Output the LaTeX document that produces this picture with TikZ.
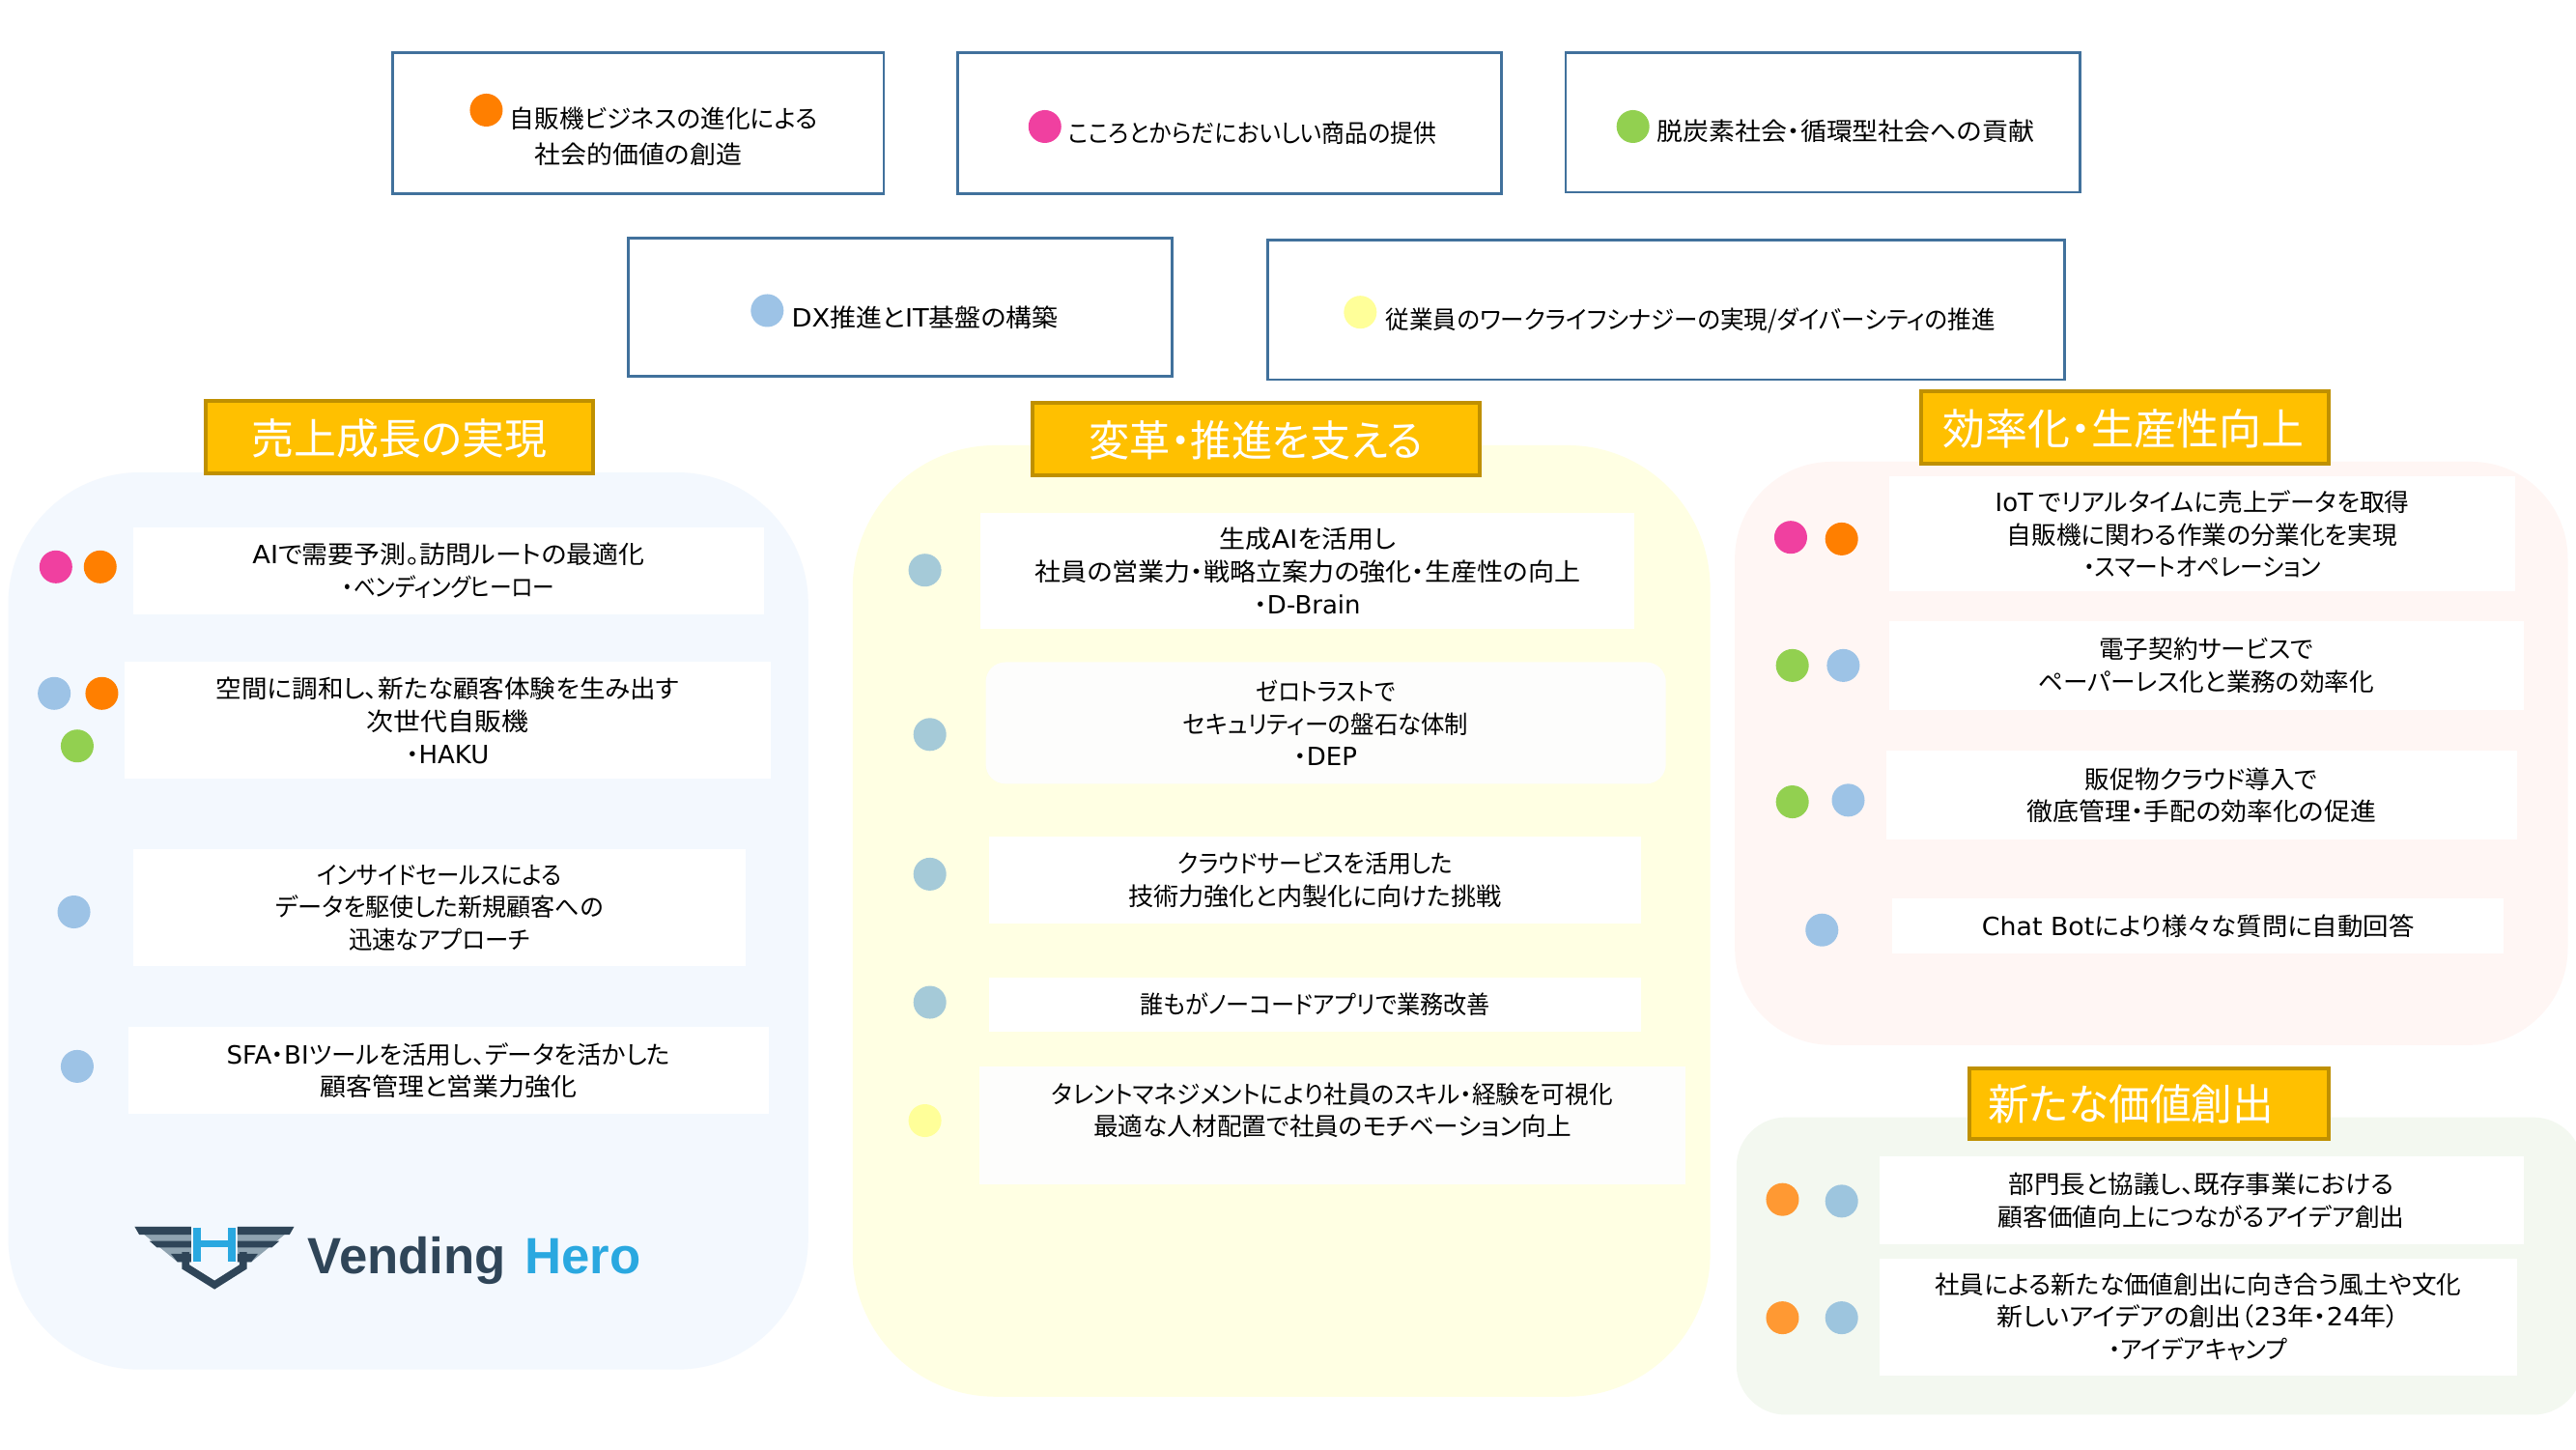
\documentclass[tikz,border=0pt]{standalone}
\usepackage{fontspec}
\setmainfont[RawFeature={+palt}]{Noto Sans CJK JP}
\newfontfamily\latfont{DejaVu Sans}
\newfontfamily\logofont{Liberation Sans}
\newcommand{\lat}[1]{{\latfont\fontsize{7.4pt}{9.6pt}\selectfont #1}}
\newcommand{\squeeze}[2]{\scalebox{#1}[1]{#2}}
\newcommand{\px}{0.17009mm}
\definecolor{frameblue}{HTML}{41719C}
\definecolor{headfill}{HTML}{FFC000}
\definecolor{headline}{HTML}{BF9000}
\definecolor{dotorange}{HTML}{FF7F00}
\definecolor{dotlight}{HTML}{FF9933}
\definecolor{dotpink}{HTML}{F040A0}
\definecolor{dotgreen}{HTML}{92D050}
\definecolor{dotblue}{HTML}{9DC3E6}
\definecolor{dotteal}{HTML}{A5CAD8}
\definecolor{dotsky}{HTML}{9DC5DE}
\definecolor{dotyellow}{HTML}{FFFF99}
\definecolor{softwhite}{HTML}{FDFDFC}
\definecolor{logodark}{HTML}{2F4558}
\definecolor{logolight}{HTML}{8FA3B0}
\definecolor{logoblue}{HTML}{2AA8E0}
\tikzset{
  panel/.style={inner sep=0pt,draw=none},
  goalbox/.style={draw=frameblue,line width=0.28mm,fill=white,inner sep=0pt},
  goaltext/.style={inner sep=0pt,font=\fontsize{7.3pt}{9.6pt}\selectfont,align=center},
  headbox/.style={draw=headline,line width=0.4mm,fill=headfill,inner sep=0pt},
  headtext/.style={inner sep=0pt,text=white,font=\fontsize{12.5pt}{15pt}\selectfont},
  itembox/.style={fill=white,inner sep=0pt,align=center,font=\fontsize{7.3pt}{9.6pt}\selectfont},
  softbox/.style={itembox,fill=softwhite},
  dot/.style={circle,inner sep=0pt,minimum size=20*\px}
}
\begin{document}
\begin{tikzpicture}[x=\px,y=\px]
\useasboundingbox (0,0) rectangle (1568,-882);
\fill[white] (0,0) rectangle (1568,-882);
% Panels
\node[panel,fill={rgb,255:red,243;green,248;blue,254},rounded corners=80*\px,minimum width=487*\px,minimum height=546*\px] (panelsales) at (248.5,-560.5) {};
\node[panel,fill={rgb,255:red,255;green,255;blue,227},rounded corners=87*\px,minimum width=522*\px,minimum height=579*\px] (panelchange) at (780,-560.5) {};
\node[panel,fill={rgb,255:red,255;green,246;blue,244},rounded corners=59*\px,minimum width=507*\px,minimum height=355*\px] (panelwork) at (1309.5,-458.5) {};
\node[panel,fill={rgb,255:red,243;green,248;blue,240},rounded corners=30*\px,minimum width=515*\px,minimum height=181*\px] (panelnew) at (1314.5,-770.5) {};
% Goals
\node[goalbox,minimum width=299*\px,minimum height=86*\px] (goalone) at (388.5,-75) {};
\node[goalbox,minimum width=331*\px,minimum height=86*\px] (goaltwo) at (748.5,-75) {};
\node[goalbox,minimum width=313*\px,minimum height=85*\px] (goalthree) at (1109.5,-74.5) {};
\node[goalbox,minimum width=331*\px,minimum height=84*\px] (goalfour) at (548,-187) {};
\node[goalbox,minimum width=485*\px,minimum height=85*\px] (goalfive) at (1014,-188.5) {};
\node[goaltext] (goalonea) at (404,-72) {自販機ビジネスの進化による};
\node[goaltext] (goaloneb) at (388.5,-94) {\squeeze{1.05}{社会的価値の創造}};
\node[goaltext] (goaltwoa) at (762.5,-81) {\squeeze{0.93}{こころとからだにおいしい商品の提供}};
\node[goaltext] (goalthreea) at (1123.5,-80) {\squeeze{1.05}{脱炭素社会・循環型社会への貢献}};
\node[goaltext] (goalfoura) at (563,-193) {\squeeze{1.05}{\lat{DX}推進と\lat{IT}基盤の構築}};
\node[goaltext] (goalfivea) at (1029,-195) {\squeeze{0.956}{従業員のワークライフシナジーの実現/ダイバーシティの推進}};
% Headings
\node[headbox,minimum width=236*\px,minimum height=44*\px] (headsales) at (243,-266) {};
\node[headbox,minimum width=272*\px,minimum height=44*\px] (headchange) at (764.5,-267) {};
\node[headbox,minimum width=248*\px,minimum height=44*\px] (headwork) at (1293.5,-260) {};
\node[headbox,minimum width=219*\px,minimum height=43*\px] (headnew) at (1308,-671.5) {};
\node[headtext] (titlesales) at (243,-267) {売上成長の実現};
\node[headtext] (titlechange) at (764.5,-268) {\squeeze{0.96}{変革・推進を支える}};
\node[headtext] (titlework) at (1292.5,-261) {効率化・生産性向上};
\node[headtext] (titlenew) at (1297,-672) {\squeeze{0.97}{新たな価値創出}};
% Panel 1
\node[itembox,minimum width=384*\px,minimum height=53*\px] (salesa) at (273,-347.5) {\squeeze{1.05}{\lat{AI}で需要予測。訪問ルートの最適化}\\\squeeze{0.885}{・ベンディングヒーロー}};
\node[itembox,minimum width=393*\px,minimum height=71*\px] (salesb) at (272.5,-438.5) {\squeeze{1.035}{空間に調和し、新たな顧客体験を生み出す}\\\squeeze{1.09}{次世代自販機}\\・\lat{HAKU}};
\node[itembox,minimum width=373*\px,minimum height=71*\px] (salesc) at (267.5,-552.5) {\squeeze{0.91}{インサイドセールスによる}\\\squeeze{0.98}{データを駆使した新規顧客への}\\\squeeze{0.95}{迅速なアプローチ}};
\node[itembox,minimum width=390*\px,minimum height=53*\px] (salesd) at (273,-651.5) {\lat{SFA}・\lat{BI}ツールを活用し、データを活かした\\\squeeze{1.05}{顧客管理と営業力強化}};
% Panel 2
\node[itembox,minimum width=398*\px,minimum height=71*\px] (changea) at (796,-347.5) {\squeeze{1.05}{生成\lat{AI}を活用し}\\\squeeze{1.054}{社員の営業力・戦略立案力の強化・生産性の向上}\\・\lat{D-Brain}};
\node[softbox,rounded corners=12*\px,minimum width=414*\px,minimum height=74*\px] (changeb) at (807,-440) {\squeeze{0.91}{ゼロトラストで}\\\squeeze{0.95}{セキュリティーの盤石な体制}\\・\lat{DEP}};
\node[itembox,minimum width=397*\px,minimum height=53*\px] (changec) at (800.5,-535.5) {\squeeze{0.93}{クラウドサービスを活用した}\\\squeeze{1.02}{技術力強化と内製化に向けた挑戦}};
\node[itembox,minimum width=397*\px,minimum height=33*\px] (changed) at (800.5,-611.5) {\squeeze{0.94}{誰もがノーコードアプリで業務改善}};
\node[softbox,minimum width=430*\px,minimum height=72*\px] (changee) at (811,-685) {\squeeze{0.96}{タレントマネジメントにより社員のスキル・経験を可視化}\\最適な人材配置で社員のモチベーション向上\\\mbox{}};
% Panel 3
\node[itembox,minimum width=381*\px,minimum height=70*\px] (worka) at (1340.5,-325) {\lat{IoT} でリアルタイムに売上データを取得\\自販機に関わる作業の分業化を実現\\\squeeze{0.925}{・スマートオペレーション}};
\node[itembox,minimum width=386*\px,minimum height=54*\px] (workb) at (1343,-405) {電子契約サービスで\\ペーパーレス化と業務の効率化};
\node[itembox,minimum width=384*\px,minimum height=54*\px] (workc) at (1340,-484) {販促物クラウド導入で\\\squeeze{1.05}{徹底管理・手配の効率化の促進}};
\node[itembox,minimum width=372*\px,minimum height=33*\px] (workd) at (1338,-563.5) {\squeeze{1.03}{\lat{Chat Bot}により様々な質問に自動回答}};
% Panel 4
\node[itembox,minimum width=392*\px,minimum height=53*\px] (newa) at (1340,-730.5) {\squeeze{1.035}{部門長と協議し、既存事業における}\\顧客価値向上につながるアイデア創出};
\node[itembox,minimum width=388*\px,minimum height=71*\px] (newb) at (1338,-801.5) {社員による新たな価値創出に向き合う風土や文化\\\squeeze{1.05}{新しいアイデアの創出（\lat{23}年・\lat{24}年）}\\\squeeze{0.94}{・アイデアキャンプ}};
% Dots
\foreach \x/\y/\c [count=\i] in {296/67/dotorange,636/77/dotpink,994/77/dotgreen,467/189/dotblue,828/190/dotyellow,
	34/345/dotpink,61/345/dotorange,33/422/dotblue,62/422/dotorange,47/454/dotgreen,45/555/dotblue,47/649/dotblue,
	563/347/dotteal,566/447/dotteal,566/532/dotteal,566/610/dotteal,563/682/dotyellow,
	1090/327/dotpink,1121/328/dotorange,1091/405/dotgreen,1122/405/dotblue,1091/488/dotgreen,1125/487/dotblue,1109/566/dotblue,
	1085/730/dotlight,1121/731/dotsky,1085/802/dotlight,1121/802/dotsky}
	\node[dot,fill=\c] (dot\i) at (\x,-\y) {};
% Logo
\fill[logolight] (82,-746.6) -- (116.4,-746.6) -- (116.4,-768) -- (108,-768) -- cycle;
\fill[logolight] (179,-746.6) -- (144.6,-746.6) -- (144.6,-768) -- (153,-768) -- cycle;
\foreach \ya/\yb/\xa/\xb in {746.6/751.5/82/84.8,755.3/759.2/91/95.5,763/768/104/108}{
	\fill[logodark] (\xa,-\ya) -- (116.4,-\ya) -- (116.4,-\yb) -- (\xb,-\yb) -- cycle;
	\fill[logodark] (261-\xa,-\ya) -- (144.6,-\ya) -- (144.6,-\yb) -- (261-\xb,-\yb) -- cycle;
}
\draw[logodark,line width=4.5*\px,line join=miter] (113,-762) -- (113,-771) -- (130.6,-782) -- (148,-771) -- (148,-762);
\draw[logoblue,line width=4.5*\px] (120,-747) -- (120,-768) (141,-747) -- (141,-768) (120,-757) -- (141,-757);
\node[anchor=base west,inner sep=0pt,text=logodark,font=\logofont\bfseries\fontsize{15pt}{18pt}\selectfont] (logovending) at (187,-775) {Vending};
\node[anchor=base west,inner sep=0pt,text=logoblue,font=\logofont\bfseries\fontsize{15pt}{18pt}\selectfont] (logohero) at (319,-775) {Hero};
\end{tikzpicture}
\end{document}
